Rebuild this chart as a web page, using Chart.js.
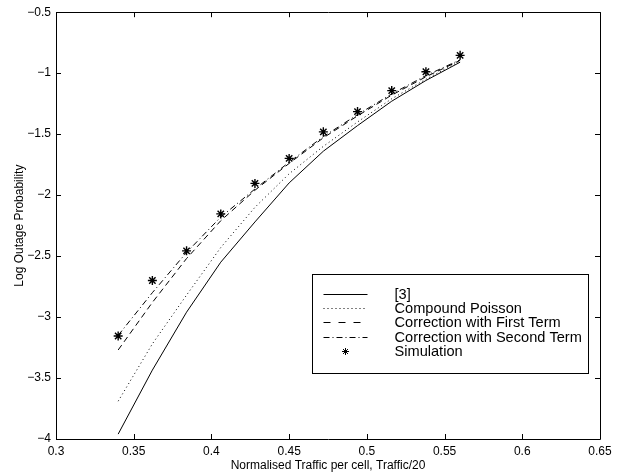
<!DOCTYPE html>
<html>
<head>
<meta charset="utf-8">
<script src="https://cdn.jsdelivr.net/npm/chart.js@4.4.0/dist/chart.umd.min.js"></script>
<style>
  body { margin: 0; background: #fff; }
  #wrap { width: 632px; height: 474px; }
</style>
</head>
<body>
<div id="wrap"><canvas id="outageChart" width="632" height="474"></canvas></div>
<script>
// normalised traffic per cell (Traffic/20)
const traffic = [0.34, 0.362, 0.384, 0.406, 0.428, 0.45, 0.472, 0.494, 0.516, 0.538, 0.56];
// log outage probability for each method
const ref3 = [-3.96, -3.435, -2.96, -2.55, -2.22, -1.90, -1.64, -1.43, -1.23, -1.06, -0.91];
const compoundPoisson = [-3.69, -3.22, -2.82, -2.43, -2.10, -1.825, -1.60, -1.40, -1.21, -1.05, -0.90];
const firstTerm = [-3.27, -2.88, -2.52, -2.21, -1.96, -1.74, -1.53, -1.35, -1.18, -1.03, -0.895];
const secondTerm = [-3.15, -2.80, -2.47, -2.18, -1.95, -1.73, -1.52, -1.34, -1.17, -1.02, -0.89];
const simulation = [-3.155, -2.70, -2.457, -2.154, -1.904, -1.699, -1.481, -1.315, -1.143, -0.988, -0.854];

const seriesLabels = ['[3]', 'Compound Poisson', 'Correction with First Term', 'Correction with Second Term', 'Simulation'];
const xTitle = 'Normalised Traffic per cell, Traffic/20';
const yTitle = 'Log Outage Probability';

const FONT = '"Liberation Sans", Arial, Helvetica, sans-serif';

function toPoints(ys) {
  return traffic.map((x, i) => ({ x: x, y: ys[i] }));
}

function lineSet(label, ys, dash) {
  return {
    label: label,
    data: toPoints(ys),
    borderColor: '#000',
    borderWidth: 1,
    borderDash: dash,
    pointRadius: 0,
    tension: 0,
    fill: false
  };
}

function fmt(v) {
  return String(Number(v.toFixed(2))).replace('-', '\u2212');
}

// MATLAB style box with ticks pointing inwards on all four sides
const boxPlugin = {
  id: 'boxPlugin',
  afterDatasetsDraw(chart) {
    const ctx = chart.ctx;
    const a = chart.chartArea;
    const xs = chart.scales.x, ys = chart.scales.y;
    const len = 5;
    ctx.save();
    ctx.strokeStyle = '#000';
    ctx.lineWidth = 1;
    ctx.beginPath();
    ctx.rect(Math.round(a.left) + 0.5, Math.round(a.top) + 0.5,
      Math.round(a.right - a.left), Math.round(a.bottom - a.top));
    xs.ticks.forEach(t => {
      const px = Math.round(xs.getPixelForValue(t.value)) + 0.5;
      ctx.moveTo(px, a.bottom); ctx.lineTo(px, a.bottom - len);
      ctx.moveTo(px, a.top); ctx.lineTo(px, a.top + len);
    });
    ys.ticks.forEach(t => {
      const py = Math.round(ys.getPixelForValue(t.value)) + 0.5;
      ctx.moveTo(a.left, py); ctx.lineTo(a.left + len, py);
      ctx.moveTo(a.right, py); ctx.lineTo(a.right - len, py);
    });
    ctx.stroke();
    ctx.restore();
  }
};

// legend box in the lower right of the axes
const legendPlugin = {
  id: 'legendPlugin',
  afterDraw(chart) {
    const ctx = chart.ctx;
    const a = chart.chartArea;
    const w = 276, h = 99;
    const left = Math.round(a.right - 12 - w) + 0.5;
    const top = Math.round(a.bottom - 66 - h) + 0.5;
    ctx.save();
    ctx.fillStyle = '#fff';
    ctx.fillRect(left, top, w, h);
    ctx.strokeStyle = '#000';
    ctx.lineWidth = 1;
    ctx.setLineDash([]);
    ctx.strokeRect(left, top, w, h);
    ctx.font = '14.6px ' + FONT;
    ctx.textBaseline = 'middle';
    ctx.textAlign = 'left';
    chart.data.datasets.forEach((ds, i) => {
      const y = Math.round(top + 19 + i * 14.4) + 0.5;
      ctx.strokeStyle = '#000';
      ctx.lineWidth = 1;
      if (ds.showLine === false) {
        ctx.setLineDash([]);
        Chart.helpers.drawPoint(ctx, {
          pointStyle: ds.pointStyle, radius: 3.5, rotation: 0, borderWidth: ds.borderWidth
        }, left + 33, y);
      } else {
        ctx.setLineDash(ds.borderDash.length === 2 && ds.borderDash[0] > 2 ? [7, 8] : ds.borderDash);
        ctx.beginPath();
        ctx.moveTo(left + 11, y);
        ctx.lineTo(left + 55, y);
        ctx.stroke();
      }
      ctx.setLineDash([]);
      ctx.fillStyle = '#000';
      ctx.fillText(ds.label, left + 82, y);
    });
    ctx.restore();
  }
};

new Chart(document.getElementById('outageChart'), {
  type: 'line',
  data: {
    datasets: [
      lineSet(seriesLabels[0], ref3, []),
      lineSet(seriesLabels[1], compoundPoisson, [1, 3]),
      lineSet(seriesLabels[2], firstTerm, [6, 4]),
      lineSet(seriesLabels[3], secondTerm, [6, 3, 1, 3]),
      {
        label: seriesLabels[4],
        data: toPoints(simulation),
        showLine: false,
        pointStyle: 'star',
        pointRadius: 4.5,
        borderColor: '#000',
        backgroundColor: '#000',
        borderWidth: 1.4
      }
    ]
  },
  options: {
    responsive: false,
    animation: false,
    devicePixelRatio: 1,
    layout: { padding: { top: 11, right: 32, left: 0, bottom: 0 } },
    plugins: {
      legend: { display: false },
      tooltip: { enabled: false }
    },
    scales: {
      x: {
        type: 'linear',
        min: 0.3,
        max: 0.65,
        border: { display: false },
        grid: { display: false, drawTicks: false },
        ticks: {
          stepSize: 0.05,
          padding: 5,
          color: '#000',
          font: { family: FONT, size: 12 },
          maxRotation: 0,
          callback: v => fmt(v)
        },
        title: {
          display: true,
          text: xTitle,
          color: '#000',
          font: { family: FONT, size: 12 },
          padding: { top: 0, bottom: 1 }
        },
        afterFit: s => { s.height = 35; }
      },
      y: {
        min: -4,
        max: -0.5,
        border: { display: false },
        grid: { display: false, drawTicks: false },
        ticks: {
          stepSize: 0.5,
          padding: 5,
          color: '#000',
          font: { family: FONT, size: 12 },
          callback: v => fmt(v)
        },
        title: {
          display: true,
          text: yTitle,
          color: '#000',
          font: { family: FONT, size: 12 },
          padding: { top: 12, bottom: 0 }
        },
        afterFit: s => { s.width = 56; }
      }
    }
  },
  plugins: [boxPlugin, legendPlugin]
});
</script>
</body>
</html>
